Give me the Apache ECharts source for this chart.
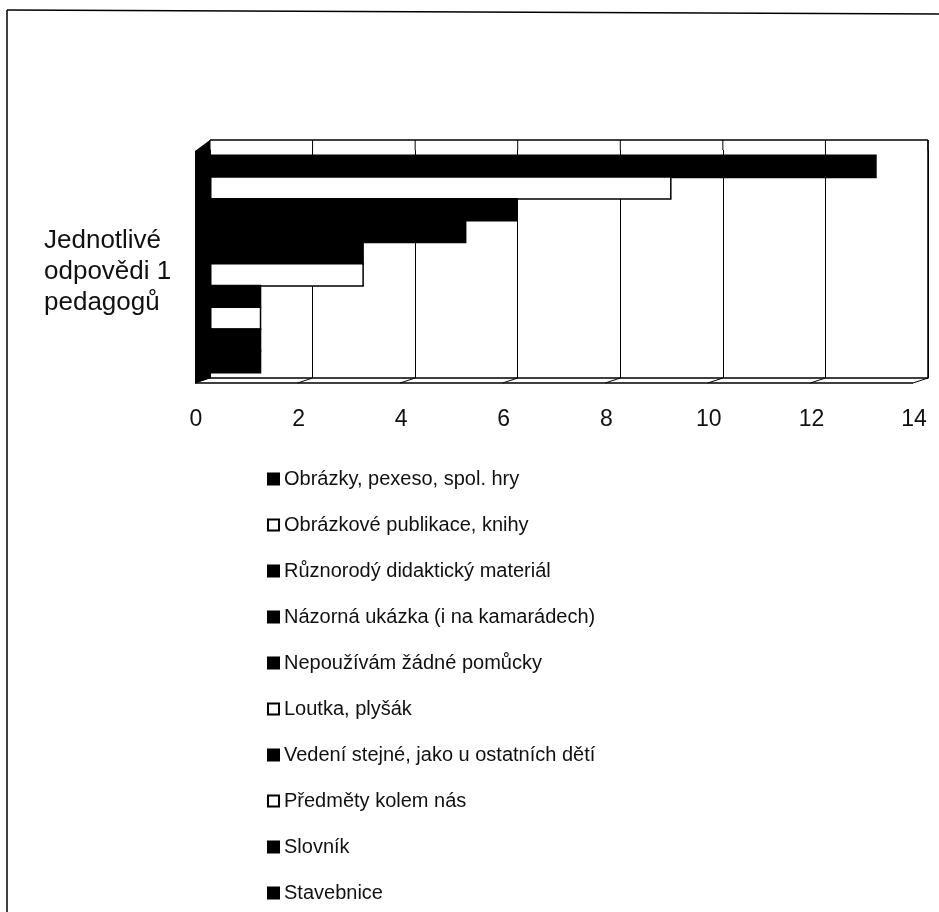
<!DOCTYPE html>
<html>
<head>
<meta charset="utf-8">
<script src="https://cdn.jsdelivr.net/npm/echarts@6/dist/echarts.min.js"></script>
<style>
    html, body { margin: 0; padding: 0; background: #fff; }
    #chart { width: 939px; height: 912px; }
</style>
</head>
<body>
<div id="chart"></div>
<script>
const categories = ["Jednotlivé\nodpovědi 1\npedagogů"];

const seriesNames = [
    "Obrázky, pexeso, spol. hry",
    "Obrázkové publikace, knihy",
    "Různorodý didaktický materiál",
    "Názorná ukázka (i na kamarádech)",
    "Nepoužívám žádné pomůcky",
    "Loutka, plyšák",
    "Vedení stejné, jako u ostatních dětí",
    "Předměty kolem nás",
    "Slovník",
    "Stavebnice"
];

const seriesValues = [13, 9, 6, 5, 3, 3, 1, 1, 1, 1];

// true = black fill, false = white fill with black border
const seriesFilled = [true, false, true, true, true, false, true, false, true, true];

const xTicks = [0, 2, 4, 6, 8, 10, 12, 14];

const chart = echarts.init(document.getElementById("chart"));

const series = seriesNames.map((name, i) => ({
    name: name,
    type: "bar",
    data: [seriesValues[i]],
    barGap: "-8%",
    barCategoryGap: "4%",
    itemStyle: {
        color: seriesFilled[i] ? "#000" : "#fff",
        borderColor: "#000",
        borderWidth: 1.5
    }
}));

const wallTop = 140;

chart.setOption({
    animation: false,
    backgroundColor: "#fff",
    textStyle: { fontFamily: "Liberation Sans" },
    grid: {
        left: 210,
        right: 11,
        top: 150,
        bottom: 534
    },
    legend: {
        orient: "vertical",
        left: 262,
        top: 464,
        itemWidth: 11,
        itemHeight: 11,
        itemGap: 26,
        icon: "rect",
        textStyle: { fontSize: 20, color: "#111", fontFamily: "Liberation Sans" },
        data: seriesNames
    },
    xAxis: {
        type: "value",
        min: 0,
        max: 14,
        interval: 2,
        axisLine: { show: true, lineStyle: { color: "#000", width: 1.5 } },
        axisTick: { show: false },
        axisLabel: {
            margin: 30,
            fontSize: 23,
            color: "#111",
            fontFamily: "Liberation Sans",
            padding: [0, 28, 0, 0],
            formatter: v => xTicks.includes(v) ? String(v) : ""
        },
        splitLine: { show: true, lineStyle: { color: "#000", width: 1 } }
    },
    yAxis: {
        type: "category",
        inverse: true,
        data: categories,
        axisLine: { show: true, lineStyle: { color: "#000", width: 1.5 } },
        axisTick: { show: false },
        axisLabel: { show: false }
    },
    series: series
});

// pseudo-3D floor and frame, tied to the axis scale
const gridBottom = 912 - 534;
const depthX = 15;
const depthY = 5;
const xLeft = chart.convertToPixel({ xAxisIndex: 0 }, 0);
const xRight = chart.convertToPixel({ xAxisIndex: 0 }, 14);
const catY = chart.convertToPixel({ yAxisIndex: 0 }, 0);

const graphics = [
    { type: "line", shape: { x1: 7, y1: 10, x2: 939, y2: 14 }, style: { stroke: "#000", lineWidth: 1.5 } },
    { type: "line", shape: { x1: 7, y1: 10, x2: 7, y2: 912 }, style: { stroke: "#000", lineWidth: 1.5 } },
    { type: "line", shape: { x1: xLeft, y1: wallTop, x2: xRight, y2: wallTop }, style: { stroke: "#000", lineWidth: 1.5 } },
    { type: "line", shape: { x1: xRight, y1: wallTop, x2: xRight, y2: gridBottom }, style: { stroke: "#000", lineWidth: 1.5 } },
    { type: "line", shape: { x1: xLeft - depthX, y1: gridBottom + depthY, x2: xRight - depthX, y2: gridBottom + depthY }, style: { stroke: "#000", lineWidth: 1.5 } },
    { type: "polygon", shape: { points: [[xLeft, wallTop], [xLeft - depthX, wallTop + depthY + 6], [xLeft - depthX, gridBottom + depthY], [xLeft, gridBottom]] }, style: { fill: "#000" } },
    // category label, left-aligned like the original
    {
        type: "text",
        x: 44,
        y: catY + 8,
        style: {
            text: categories[0],
            font: "26px 'Liberation Sans'",
            fill: "#111",
            align: "left",
            verticalAlign: "middle",
            lineHeight: 31
        }
    }
];

xTicks.forEach(v => {
    const x = chart.convertToPixel({ xAxisIndex: 0 }, v);
    graphics.push(
        { type: "line", shape: { x1: x, y1: gridBottom, x2: x - depthX, y2: gridBottom + depthY }, style: { stroke: "#000", lineWidth: 1 } },
        { type: "line", shape: { x1: x, y1: wallTop, x2: x, y2: 150 }, style: { stroke: "#000", lineWidth: 1 } }
    );
});

chart.setOption({ graphic: graphics });
</script>
</body>
</html>
